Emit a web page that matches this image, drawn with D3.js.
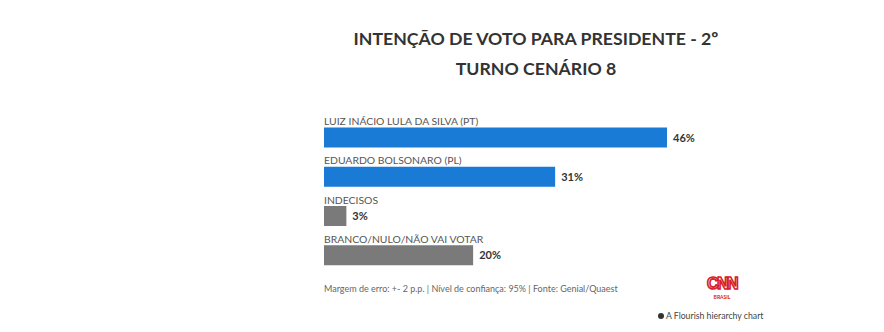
<!DOCTYPE html>
<html><head><meta charset="utf-8">
<script src="https://cdn.jsdelivr.net/npm/d3@7"></script>
<style>
body{margin:0;background:#fff;}
svg{display:block;}
</style></head>
<body><svg id="c" width="884" height="332"></svg>
<script>
const categories = ["LUIZ INÁCIO LULA DA SILVA (PT)", "EDUARDO BOLSONARO (PL)", "INDECISOS", "BRANCO/NULO/NÃO VAI VOTAR"];
const values = [46, 31, 3, 20];
const colors = ["#1a7bd6", "#1a7bd6", "#7a7a7a", "#7a7a7a"];
const titleLines = ["INTENÇÃO DE VOTO PARA PRESIDENTE - 2º", "TURNO CENÁRIO 8"];
const footer = "Margem de erro: +- 2 p.p. | Nível de confiança: 95% | Fonte: Genial/Quaest";

const svg = d3.select("#c");
const font = "Lato, 'Open Sans', sans-serif";

svg.selectAll("text.title").data(titleLines).enter().append("text")
  .attr("x", 536).attr("y", (d,i)=>45 + i*30)
  .attr("text-anchor","middle")
  .attr("font-family", font).attr("font-weight", 700).attr("font-size", 17.7)
  .attr("fill","#333").text(d=>d);

const x = d3.scaleLinear().domain([0, 46]).range([324, 667]);
const y = d3.scaleBand().domain(categories).range([114, 271]).paddingInner(0).paddingOuter(0);

const g = svg.append("g");
const rows = g.selectAll("g.row").data(categories).enter().append("g");

rows.append("text")
  .attr("x", x(0)).attr("y", d=>y(d)+11)
  .attr("font-family", font).attr("font-size", 10.4)
  .attr("fill","#555").text(d=>d);

rows.append("rect")
  .attr("x", x(0)).attr("y", d=>y(d)+13.5)
  .attr("width", (d,i)=>x(values[i])-x(0)).attr("height", 20)
  .attr("fill", (d,i)=>colors[i]);

rows.append("text")
  .attr("x", (d,i)=>x(values[i])+6).attr("y", d=>y(d)+27.5)
  .attr("font-family", font).attr("font-weight",700).attr("font-size", 11)
  .attr("fill","#333").text((d,i)=>values[i]+"%");

svg.append("text").attr("x",324).attr("y",292)
  .attr("font-family", font).attr("font-size", 9)
  .attr("fill","#666").text(footer);

// CNN logo
svg.append("text").attr("x",722).attr("y",289).attr("text-anchor","middle")
  .attr("font-family","'Liberation Sans', Arial, sans-serif").attr("font-weight",700)
  .attr("font-size",16).attr("letter-spacing",-1.5)
  .attr("fill","none").attr("stroke","#d8202a").attr("stroke-width",1.6).text("CNN");
svg.append("text").attr("x",722).attr("y",298.5).attr("text-anchor","middle")
  .attr("font-family", font).attr("font-weight",700).attr("font-size",5)
  .attr("fill","#d8202a").text("BRASIL");

// Flourish credit
svg.append("circle").attr("cx",661).attr("cy",316).attr("r",3).attr("fill","#333");
svg.append("text").attr("x",666).attr("y",319)
  .attr("font-family", font).attr("font-size", 8.7)
  .attr("fill","#444").text("A Flourish hierarchy chart");
</script></body></html>
